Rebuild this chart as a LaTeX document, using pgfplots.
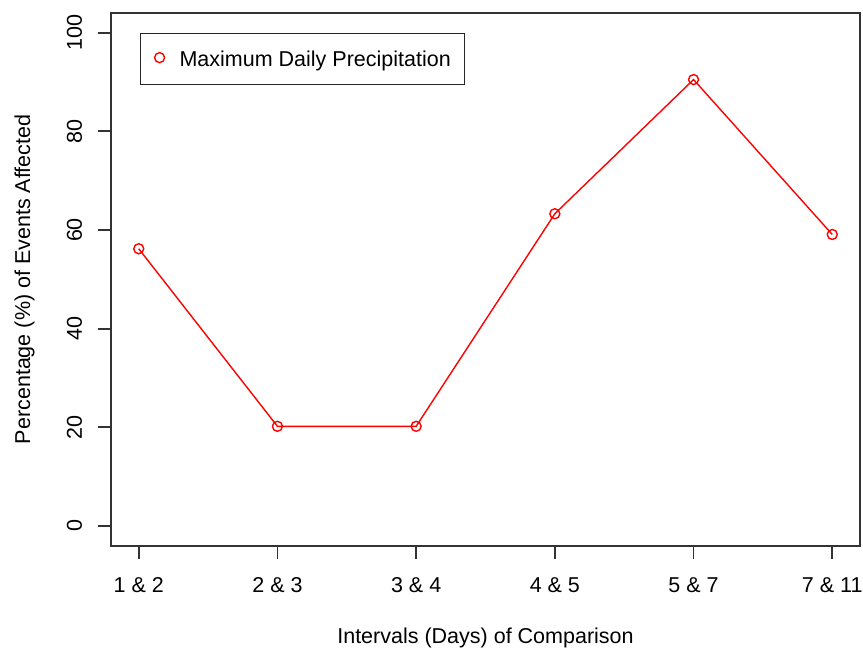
\documentclass[border=0pt]{standalone}
\usepackage{fontspec}
\setmainfont{Liberation Sans}
\usepackage{pgfplots}
\pgfplotsset{compat=1.18}
\begin{document}
\fontsize{10.75}{13}\selectfont
\begin{tikzpicture}
\path[use as bounding box] (0,0) rectangle (431.5pt,325.5pt);
\begin{axis}[
  at={(55.5pt,52.65pt)}, anchor=south west,
  scale only axis, width=374.5pt, height=266.35pt,
  xmin=-0.2, xmax=5.2, ymin=-4, ymax=104,
  xtick={0,...,5},
  xticklabels={1 \& 2, 2 \& 3, 3 \& 4, 4 \& 5, 5 \& 7, 7 \& 11},
  ytick={0,20,...,100},
  tick align=outside, major tick length=6.5pt,
  xtick pos=bottom, ytick pos=left,
  axis line style={black!80, line width=0.9pt},
  every tick/.style={black!80, line width=0.9pt},
  /pgf/number format/assume math mode=true,
  yticklabel style={rotate=90, anchor=base, inner sep=0pt},
  xticklabel style={anchor=base, inner sep=0pt},
  xticklabel shift=17pt, yticklabel shift=8pt,
  every axis x label/.style={at={(axis description cs:0.5,-0.1827)}, anchor=base, inner sep=0pt},
  every axis y label/.style={at={(axis description cs:-0.1081,0.5)}, rotate=90, anchor=base, inner sep=0pt},
  xlabel={Intervals (Days) of Comparison},
  ylabel={Percentage (\%) of Events Affected},
  legend style={at={(axis description cs:0.0387,0.9625)}, anchor=north west,
    draw=black!85, line width=0.6pt, inner xsep=7pt, inner ysep=8.8pt,
    column sep=7.5pt, nodes={inner sep=0pt, text height=7.7pt, text depth=0pt}},
  legend cell align=left,
  legend image code/.code={\draw[#1] plot coordinates {(0pt,0.6pt)};},
]
\addplot[red, line width=0.7pt, mark=o, mark size=2.5pt,
  mark options={line width=0.7pt}, forget plot]
  coordinates {(0,56.2) (1,20.2) (2,20.2) (3,63.3) (4,90.5) (5,59.1)};
\addlegendimage{red, only marks, mark=o, mark size=2.5pt, line width=0.7pt}
\addlegendentry{Maximum Daily Precipitation}
\end{axis}
\end{tikzpicture}
\end{document}
